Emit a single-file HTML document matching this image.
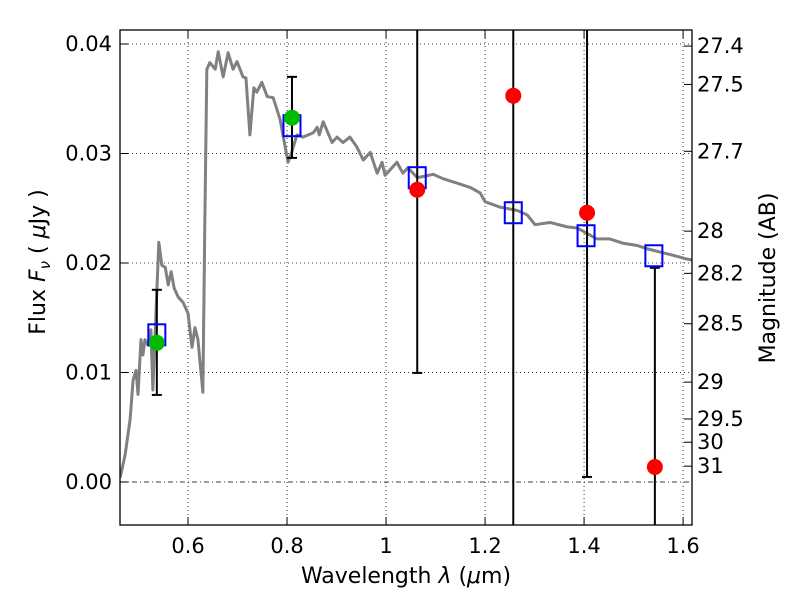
<!DOCTYPE html>
<html><head><meta charset="utf-8"><style>
html,body{margin:0;padding:0;background:#fff}
svg{display:block;font-family:"DejaVu Sans","Liberation Sans",sans-serif}
</style></head><body>
<svg id="chart" width="800" height="600" viewBox="0 0 800 600" xmlns="http://www.w3.org/2000/svg">
<defs><clipPath id="clip"><rect x="120" y="30" width="572" height="495"/></clipPath></defs>
<rect x="0" y="0" width="800" height="600" fill="#fff"/>
<g id="grid"></g>
<g id="plot" clip-path="url(#clip)"></g>
<rect x="120" y="30" width="572" height="495" fill="none" stroke="#000" stroke-width="1.3"/>
<g id="axes"></g>
<text x="406" y="583" text-anchor="middle" font-size="22">Wavelength  <tspan font-style="italic">λ</tspan> (<tspan font-style="italic">μ</tspan>m)</text>
<text transform="translate(45,262) rotate(-90)" text-anchor="middle" font-size="22">Flux  <tspan font-style="italic">F</tspan><tspan font-style="italic" font-size="15" dy="5">ν</tspan><tspan dy="-5">  (  </tspan><tspan font-style="italic">μ</tspan>Jy )</text>
<text transform="translate(775,278) rotate(-90)" text-anchor="middle" font-size="22">Magnitude (AB)</text>
</svg>
<script>
const xMin=0.4626, xMax=1.618, yMin=-0.00393, yMax=0.04128;
const xTicks=[0.6,0.8,1.0,1.2,1.4,1.6];
const xTickLabels=["0.6","0.8","1","1.2","1.4","1.6"];
const yTicks=[0,0.01,0.02,0.03,0.04];
const yTickLabels=["0.00","0.01","0.02","0.03","0.04"];
const magTicks=[27.4,27.5,27.7,28,28.2,28.5,29,29.5,30,31];
const magTickLabels=["27.4","27.5","27.7","28","28.2","28.5","29","29.5","30","31"];
const sedWave=[0.463,0.473,0.483,0.489,0.495,0.499,0.505,0.509,0.513,0.519,0.525,0.529,0.541,0.547,0.554,0.560,0.566,0.572,0.580,0.590,0.600,0.608,0.614,0.620,0.630,0.634,0.638,0.644,0.655,0.661,0.671,0.681,0.691,0.699,0.711,0.717,0.725,0.733,0.739,0.749,0.760,0.772,0.786,0.802,0.810,0.820,0.832,0.853,0.861,0.865,0.873,0.891,0.901,0.913,0.927,0.941,0.954,0.968,0.982,0.992,0.998,1.022,1.034,1.044,1.063,1.075,1.095,1.115,1.143,1.170,1.190,1.200,1.230,1.265,1.285,1.301,1.331,1.366,1.386,1.426,1.452,1.479,1.507,1.527,1.580,1.604,1.625];
const sedFlux=[0.0004,0.0025,0.0057,0.0093,0.0102,0.0080,0.0130,0.0116,0.0130,0.0125,0.0139,0.0084,0.0219,0.0198,0.0196,0.0180,0.0192,0.0177,0.0169,0.0164,0.0154,0.0123,0.0141,0.0130,0.0082,0.0239,0.0377,0.0383,0.0377,0.0393,0.0370,0.0392,0.0377,0.0384,0.0370,0.0369,0.0317,0.0360,0.0356,0.0365,0.0352,0.0351,0.0331,0.0292,0.0302,0.0317,0.0315,0.0319,0.0324,0.0317,0.0329,0.0310,0.0315,0.0310,0.0315,0.0306,0.0294,0.0301,0.0282,0.0292,0.0280,0.0292,0.0282,0.0287,0.0278,0.0279,0.0281,0.0277,0.0273,0.0269,0.0264,0.0256,0.0251,0.0248,0.0244,0.0235,0.0237,0.0233,0.0232,0.0222,0.0222,0.0218,0.0216,0.0213,0.0207,0.0204,0.0202];
const modelWave=[0.537,0.810,1.063,1.257,1.404,1.541];
const modelFlux=[0.01344,0.03254,0.02779,0.02459,0.02249,0.02066];
const greenWave=[0.537,0.810];
const greenFlux=[0.01271,0.03327];
const greenLo=[0.00795,0.0296];
const greenHi=[0.01755,0.0370];
const redWave=[1.063,1.257,1.406,1.543];
const redFlux=[0.02669,0.03528,0.02459,0.00137];
const redLo=[0.00996,-0.01,0.00046,-0.01];
const redHi=[0.06,0.06,0.06,0.01956];
const redLoCap=[true,false,true,false];
const redHiCap=[false,false,false,true];

const X=v=>120+(v-xMin)/(xMax-xMin)*572;
const Y=v=>525-(v-yMin)/(yMax-yMin)*495;
const magToFlux=m=>Math.pow(10,-0.4*(m-23.9));
const NS="http://www.w3.org/2000/svg";
function mk(parent,tag,attrs,text){const e=document.createElementNS(NS,tag);for(const k in attrs)e.setAttribute(k,attrs[k]);if(text!==undefined)e.textContent=text;parent.appendChild(e);return e;}
const grid=document.getElementById('grid'),plot=document.getElementById('plot'),axes=document.getElementById('axes');

xTicks.forEach((t,i)=>{
  const x=X(t);
  const g=mk(grid,'line',{x1:x,x2:x,y1:30,y2:525,stroke:'#000','stroke-width':0.8,'stroke-dasharray':'1,3'});
  
  
  mk(axes,'line',{x1:x,x2:x,y1:525,y2:517,stroke:'#000','stroke-width':1});
  mk(axes,'line',{x1:x,x2:x,y1:30,y2:38,stroke:'#000','stroke-width':1});
  const l=mk(axes,'text',{x:x,y:553,'text-anchor':'middle','font-size':21},xTickLabels[i]);
  
  
});
yTicks.forEach((t,i)=>{
  const y=Y(t);
  const g=mk(grid,'line',{x1:120,x2:692,y1:y,y2:y,stroke:'#000','stroke-width':0.8,'stroke-dasharray':t===0?'5,3,1,3':'1,3'});
  
  
  mk(axes,'line',{x1:120,x2:128,y1:y,y2:y,stroke:'#000','stroke-width':1});
  const l=mk(axes,'text',{x:112,y:y+7,'text-anchor':'end','font-size':21},yTickLabels[i]);
  
  
});
magTicks.forEach((m,i)=>{
  const y=Y(magToFlux(m));
  mk(axes,'line',{x1:684,x2:692,y1:y,y2:y,stroke:'#000','stroke-width':1});
  const l=mk(axes,'text',{x:697,y:y+7,'font-size':21},magTickLabels[i]);
  
  
});

const sed=mk(plot,'polyline',{points:sedWave.map((w,i)=>X(w)+','+Y(sedFlux[i])).join(' '),fill:'none',stroke:'#808080','stroke-width':3,'stroke-linejoin':'round'});



function errbar(x,lo,hi,capLo,capHi){
  const e=mk(plot,'line',{x1:X(x),x2:X(x),y1:Y(lo),y2:Y(hi),stroke:'#000','stroke-width':2});
  
  
  if(capLo)mk(plot,'line',{x1:X(x)-5,x2:X(x)+5,y1:Y(lo),y2:Y(lo),stroke:'#000','stroke-width':2});
  if(capHi)mk(plot,'line',{x1:X(x)-5,x2:X(x)+5,y1:Y(hi),y2:Y(hi),stroke:'#000','stroke-width':2});
}
greenWave.forEach((w,i)=>errbar(w,greenLo[i],greenHi[i],true,true));
redWave.forEach((w,i)=>errbar(w,redLo[i],redHi[i],redLoCap[i],redHiCap[i]));

modelWave.forEach((w,i)=>{
  const r=mk(plot,'rect',{x:X(w)-8.5,y:Y(modelFlux[i])-10.5,width:17,height:21,fill:'none',stroke:'#0000ff','stroke-width':2});
  
  
});
greenWave.forEach((w,i)=>{
  const c=mk(plot,'circle',{cx:X(w),cy:Y(greenFlux[i]),r:8,fill:'#00bb00'});
  
  
});
redWave.forEach((w,i)=>{
  const c=mk(plot,'circle',{cx:X(w),cy:Y(redFlux[i]),r:8,fill:'#ff0000'});
  
  
});
</script>
</body></html>
